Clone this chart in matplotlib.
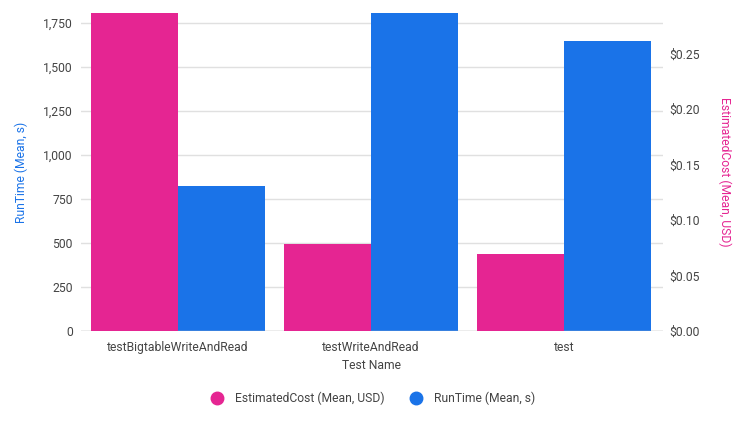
import numpy as np
import matplotlib
matplotlib.use("Agg")
import matplotlib.pyplot as plt
from matplotlib.ticker import FuncFormatter
from matplotlib.lines import Line2D

plt.rcParams['font.family'] = ['Roboto', 'DejaVu Sans']

tests = ["testBigtableWriteAndRead", "testWriteAndRead", "test"]
cost = [0.33, 0.078, 0.0696]      # first bar runs off the top
runtime = [826, 1960, 1647]       # second bar runs off the top

pink = "#E52592"
blue = "#1A73E8"
txt = "#444444"
fs = 8.7

fig = plt.figure(figsize=(7.45, 4.29), dpi=100)
ax = fig.add_axes([0.1087, 0.2284, 0.7812, 0.7413])
ax2 = ax.twinx()

x = np.arange(len(tests))
w = 0.45
ax2.bar(x - w / 2, cost, w, color=pink, zorder=3)
ax.bar(x + w / 2, runtime, w, color=blue, zorder=3)

ax.set_xlim(-0.503, 2.513)
ax.set_ylim(0, 1807)
ax2.set_ylim(0, 0.2866)
ax.set_yticks(np.arange(0, 1751, 250))
ax2.set_yticks(np.arange(0, 0.251, 0.05))
ax.yaxis.set_major_formatter(FuncFormatter(lambda v, p: f"{v:,.0f}"))
ax2.yaxis.set_major_formatter(FuncFormatter(lambda v, p: f"${v:.2f}"))

ax.grid(axis='y', color="#e0e0e0", lw=1, zorder=0)
ax.set_axisbelow(True)
ax2.set_zorder(ax.get_zorder() + 1)
ax2.patch.set_visible(False)
ax.patch.set_visible(False)

for a in (ax, ax2):
    for s in ("top", "left", "right", "bottom"):
        a.spines[s].set_visible(False)
    a.tick_params(length=0, labelsize=fs, labelcolor=txt)
ax.axhline(0, color="#bdbdbd", lw=1, zorder=4)
ax.tick_params(axis='y', pad=6)
ax2.tick_params(axis='y', pad=4.5)

ax.set_xticks(x)
ax.set_xticklabels(tests)
ax.tick_params(axis='x', pad=7)
ax.set_xlabel("Test Name", fontsize=fs, color=txt, labelpad=4)
ax.set_ylabel("RunTime (Mean, s)", fontsize=fs, color=blue)
ax2.set_ylabel("EstimatedCost (Mean, USD)", fontsize=fs, color=pink, rotation=270, va='center')
ax.yaxis.set_label_coords(-0.091, 0.5)
ax2.yaxis.set_label_coords(1.1065, 0.5)

handles = [Line2D([], [], marker='o', ls='', color=pink, markersize=9),
           Line2D([], [], marker='o', ls='', color=blue, markersize=9)]
fig.legend(handles, ["EstimatedCost (Mean, USD)", "RunTime (Mean, s)"],
           loc='center', bbox_to_anchor=(0.497, 0.072), ncol=2, frameon=False,
           fontsize=fs, labelcolor=txt, handletextpad=0.5, columnspacing=1.6)

fig.savefig("out.png", dpi=100)
